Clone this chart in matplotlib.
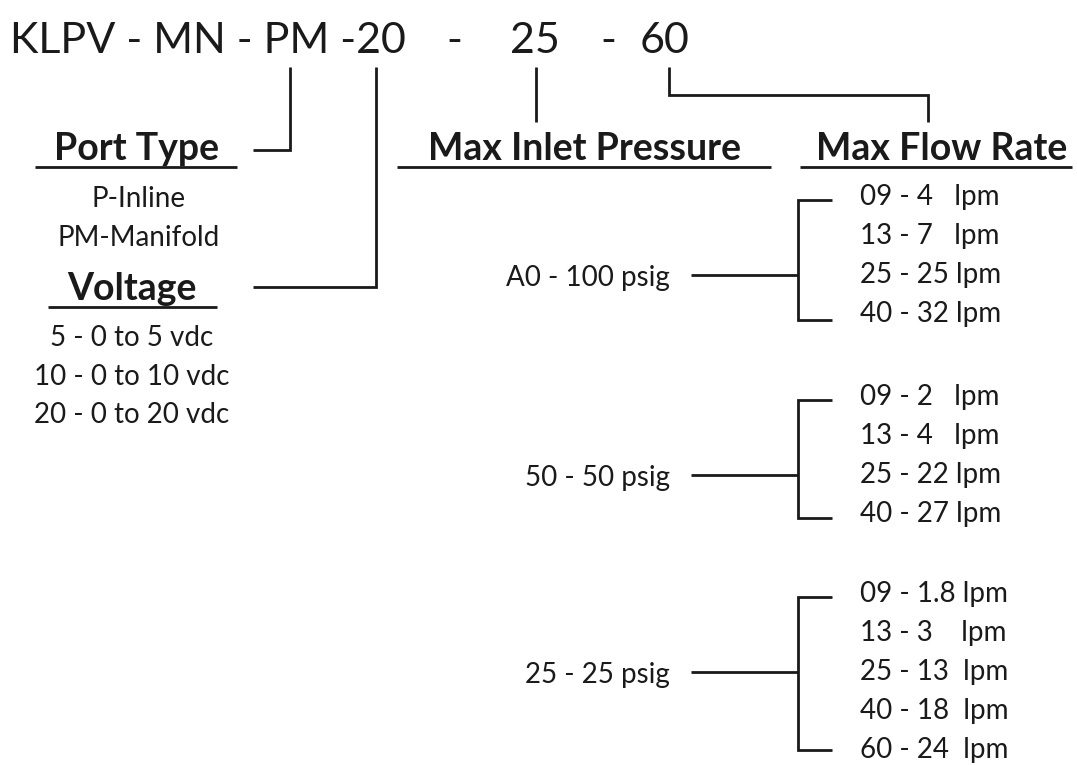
import matplotlib.pyplot as plt

# part number pieces across the top
code_parts = ["KLPV - MN - PM -20", "-", "25", "-", "60"]
headers = ["Port Type", "Voltage", "Max Inlet Pressure", "Max Flow Rate"]
port_types = ["P-Inline", "PM-Manifold"]
voltages = ["5 - 0 to 5 vdc", "10 - 0 to 10 vdc", "20 - 0 to 20 vdc"]
pressures = ["A0 - 100 psig", "50 - 50 psig", "25 - 25 psig"]
flow_rates = [
    ["09 - 4   lpm", "13 - 7   lpm", "25 - 25 lpm", "40 - 32 lpm"],
    ["09 - 2   lpm", "13 - 4   lpm", "25 - 22 lpm", "40 - 27 lpm"],
    ["09 - 1.8 lpm", "13 - 3    lpm", "25 - 13  lpm", "40 - 18  lpm", "60 - 24  lpm"],
]

plt.rcParams['font.family'] = ['Lato', 'DejaVu Sans']
ink = '#1a1a1a'
lw = 2.0

fig = plt.figure(figsize=(10.77, 7.65), dpi=100)
ax = fig.add_axes([0, 0, 1, 1])
ax.set_xlim(0, 1077)
ax.set_ylim(765, 0)
ax.axis('off')


def line(xs, ys):
    ax.plot(xs, ys, color=ink, lw=lw, solid_capstyle='butt', solid_joinstyle='miter')


# top code
code_x = [10, 446, 510, 600, 640]
for x, s in zip(code_x, code_parts):
    ax.text(x, 53, s, fontsize=31, color=ink, ha='left', va='baseline')

# connectors from the code
line([290, 290, 253], [67, 150, 150])
line([376, 376, 253], [67, 287, 287])
line([536, 536], [67, 122])
line([669, 669, 928, 928], [67, 95, 95, 122])

# headers with underlines
head_pos = {"Port Type": (137, 160, 35, 237),
            "Voltage": (132, 300, 48, 217),
            "Max Inlet Pressure": (585, 160, 397, 771),
            "Max Flow Rate": (942, 160, 800, 1072)}
for h in headers:
    cx, by, x0, x1 = head_pos[h]
    ax.text(cx, by, h, fontsize=27, fontweight='bold', color=ink, ha='center', va='baseline')
    line([x0, x1], [by + 7, by + 7])

for i, s in enumerate(port_types):
    ax.text(139, 207 + i * 39, s, fontsize=20, color=ink, ha='center', va='baseline')

for i, s in enumerate(voltages):
    ax.text(132, 346 + i * 38.5, s, fontsize=20, color=ink, ha='center', va='baseline')

# pressure groups with bracketed flow rates
group_top = [200, 400, 597]
group_bottom = [320, 518, 750]
step = 39
for p, rates, top, bottom in zip(pressures, flow_rates, group_top, group_bottom):
    label_y = [top - 4 + k * step for k in range(len(rates))]
    join_y = label_y[2] + 1
    ax.text(670, join_y, p, fontsize=20, color=ink, ha='right', va='center_baseline')
    line([691, 798], [join_y, join_y])
    line([832, 798, 798, 832], [top, top, bottom, bottom])
    for y, s in zip(label_y, rates):
        ax.text(860, y + 9, s, fontsize=20, color=ink, ha='left', va='baseline')

fig.savefig('out.png', dpi=100)
